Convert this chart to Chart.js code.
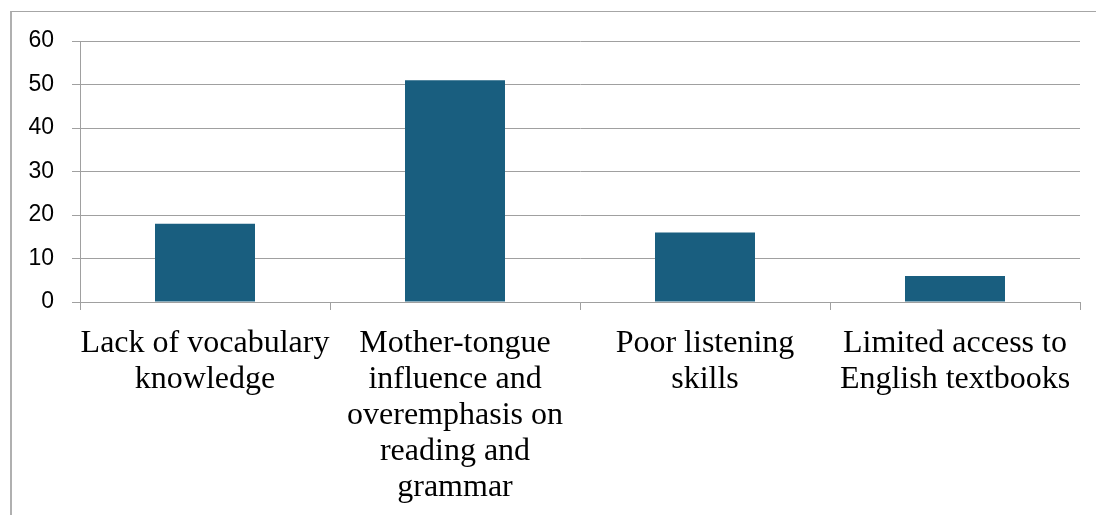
<!DOCTYPE html>
<html>
<head>
<meta charset="utf-8">
<title>Speaking difficulties</title>
<script src="https://cdn.jsdelivr.net/npm/chart.js@4/dist/chart.umd.min.js"></script>
<style>
  html, body { margin: 0; padding: 0; background: #fff; overflow: hidden; }
  .frame {
    position: absolute; left: 10px; top: 11px;
    width: 1200px; height: 600px;
    border-left: 2px solid #b0b0b0;
    border-top: 1px solid #a6a6a6;
  }
  .wrap { position: absolute; left: 0; top: 0; width: 1096px; height: 515px; }
</style>
</head>
<body>
<div class="frame"></div>
<div class="wrap"><canvas id="chart"></canvas></div>
<script>
/* ================================
   Data
================================ */
const categories = [
  ['Lack of vocabulary', 'knowledge'],
  ['Mother-tongue', 'influence and', 'overemphasis on', 'reading and', 'grammar'],
  ['Poor listening', 'skills'],
  ['Limited access to', 'English textbooks']
];
const responses = [18, 51, 16, 6];
const yTicks = [0, 10, 20, 30, 40, 50, 60];

/* ================================
   Chart
================================ */
const barColor = '#195e7f';
const lineColor = '#a0a0a0';

new Chart(document.getElementById('chart').getContext('2d'), {
  type: 'bar',
  data: {
    labels: categories,
    datasets: [{
      data: responses,
      backgroundColor: barColor,
      barPercentage: 0.5,
      categoryPercentage: 0.8
    }]
  },
  options: {
    responsive: true,
    maintainAspectRatio: false,
    animation: false,
    layout: { padding: { top: 41, right: 16, left: 0, bottom: 0 } },
    plugins: {
      legend: { display: false },
      tooltip: { enabled: false }
    },
    scales: {
      x: {
        grid: {
          drawOnChartArea: false,
          drawTicks: true,
          tickLength: 8,
          color: lineColor
        },
        border: { color: lineColor },
        ticks: {
          color: '#000',
          padding: 16,
          maxRotation: 0,
          autoSkip: false,
          font: { family: '"Liberation Serif", "Times New Roman", serif', size: 32, lineHeight: 1.125 }
        },
        afterFit: s => { s.height = 213; }
      },
      y: {
        min: yTicks[0],
        max: yTicks[yTicks.length - 1],
        afterBuildTicks: s => { s.ticks = yTicks.map(v => ({ value: v })); },
        grid: { color: lineColor, tickLength: 8 },
        border: { color: lineColor },
        ticks: {
          color: '#000',
          padding: 18,
          font: { family: '"Liberation Sans", Arial, sans-serif', size: 23 }
        },
        afterFit: s => { s.width = 80; }
      }
    }
  }
});
</script>
</body>
</html>
